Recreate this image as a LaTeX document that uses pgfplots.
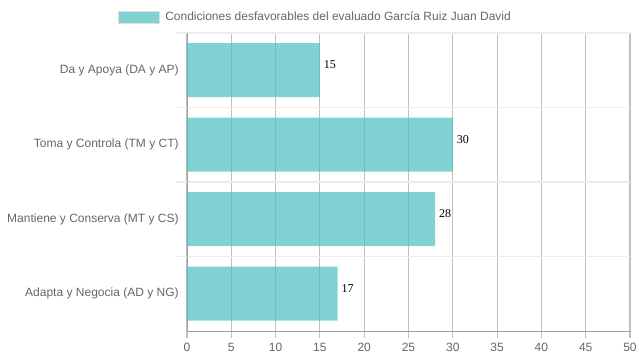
\documentclass[border=0pt]{standalone}
\usepackage{fontspec}
\setmainfont{Liberation Sans}
\newfontfamily\serifnum{Liberation Serif}
\usepackage{pgfplots}
\pgfplotsset{compat=1.18}
\definecolor{barcol}{RGB}{75,192,192}
\definecolor{legcol}{RGB}{129,211,211}
\definecolor{vgrid}{RGB}{192,192,192}
\definecolor{hgrid}{RGB}{236,236,236}
\definecolor{ticktxt}{RGB}{102,102,102}
\definecolor{axcol}{RGB}{160,160,160}
\begin{document}
\begin{tikzpicture}
\useasboundingbox (0,0) rectangle (479.25pt,270pt);
\begin{axis}[
  at={(140.25pt,21.75pt)}, anchor=south west,
  scale only axis, width=332.25pt, height=223.5pt,
  xbar, bar width=40.5pt,
  xmin=0, xmax=50, ymin=-0.5, ymax=3.5,
  xtick={0,5,...,50},
  ytick={0,1,2,3},
  yticklabels={Adapta y Negocia (AD y NG),Mantiene y Conserva (MT y CS),Toma y Controla (TM y CT),Da y Apoya (DA y AP)},
  minor ytick={0.5,1.5,2.5,3.5},
  xmajorgrids, yminorgrids,
  major x grid style={vgrid, line width=0.8pt},
  minor y grid style={hgrid, line width=0.9pt},
  axis x line*=bottom, axis y line*=left,
  axis line style={-, axcol, line width=0.6pt},
  tick align=outside,
  x tick style={vgrid, line width=0.8pt},
  major tick length=5.25pt,
  ytick style={draw=none},
  minor y tick style={draw=hgrid, line width=0.9pt},
  minor tick length=8.25pt,
  tick label style={font=\fontsize{9}{10}\selectfont, text=ticktxt},
  /pgf/number format/assume math mode=true,
  yticklabel style={xshift=2.5pt},
  xticklabel style={yshift=-0.5pt},
  nodes near coords,
  nodes near coords style={font=\serifnum\fontsize{9}{10}\selectfont, text=black, text opacity=1, anchor=base west, xshift=-0.5pt, yshift=1pt},
  legend style={at={(-0.1558,1.0805)}, anchor=north west, draw=none, fill=none, inner sep=0pt, font=\fontsize{9}{10}\selectfont, text=ticktxt},
  legend image code/.code={\fill[legcol, fill opacity=1, draw=gray!25, line width=0.6pt] (0pt,-4.5pt) rectangle (30.75pt,4.5pt); \path (33pt,0pt);},
  legend cell align=left,
]
\addplot[fill=barcol, fill opacity=0.7, draw=none] coordinates {(17,0) (28,1) (30,2) (15,3)};
\addlegendentry{Condiciones desfavorables del evaluado García Ruiz Juan David}
\end{axis}
\end{tikzpicture}
\end{document}
